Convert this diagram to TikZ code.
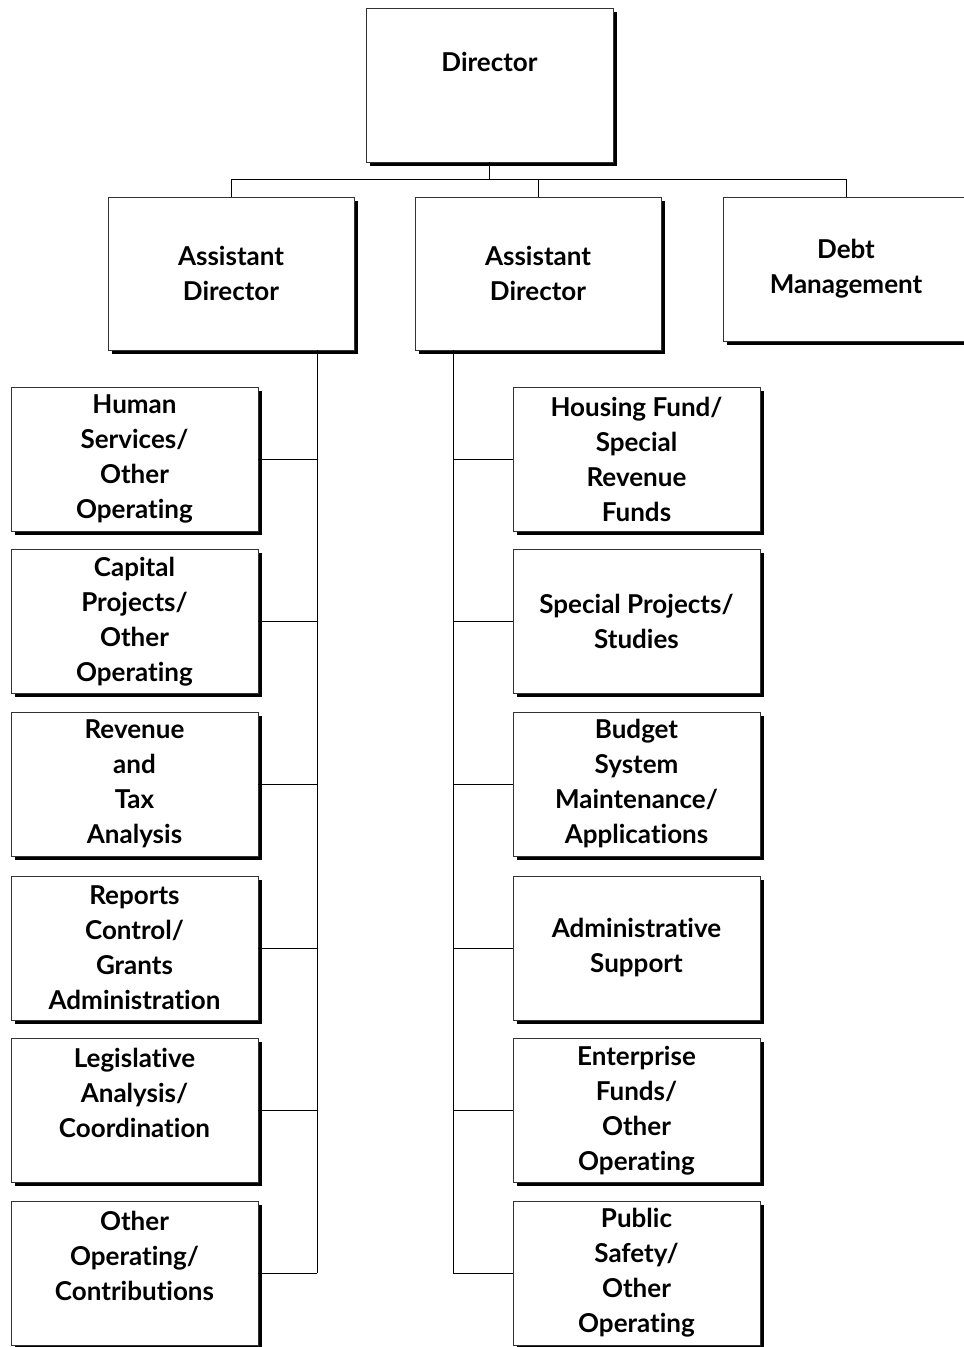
\documentclass[tikz,border=0pt]{standalone}
\usepackage{fontspec}
\setmainfont{Lato}[Ligatures=NoCommon]
\usetikzlibrary{positioning, shadows}
\tikzset{
	orgbox/.style={rectangle, draw=black!80, fill=white, line width=0.9pt, align=center, minimum width=246pt, minimum height=153pt, inner sep=0pt, font=\bfseries\fontsize{26}{35}\selectfont, drop shadow={shadow xshift=3.5pt, shadow yshift=-3.5pt, fill=black, opacity=1}},
	unitbox/.style={orgbox, minimum width=247pt, minimum height=144pt},
	link/.style={draw=black, line width=0.8pt},
}

\begin{document}
\begin{tikzpicture}[x=1pt, y=-1pt]
	\useasboundingbox (0,0) rectangle (964,1347);
	% top level
	\node[orgbox, minimum width=247pt, minimum height=154pt] (director) at (489.5,85) {Director\\[11pt]~};
	\node[orgbox] (asst1) at (231,273.5) {Assistant\\Director};
	\node[orgbox] (asst2) at (538,273.5) {Assistant\\Director};
	\node[orgbox, minimum height=144pt] (debt) at (846,269) {Debt\\Management};
	% left column
	\node[unitbox] (hs) at (134.5,459) {Human\\Services/\\Other\\Operating};
	\node[unitbox] (cp) at (134.5,621.5) {Capital\\Projects/\\Other\\Operating};
	\node[unitbox] (rta) at (134.5,784) {Revenue\\and\\Tax\\Analysis};
	\node[unitbox] (rcg) at (134.5,948) {Reports\\Control/\\Grants\\Administration};
	\node[unitbox] (lac) at (134.5,1110.5) {Legislative\\Analysis/\\Coordination\\~};
	\node[unitbox] (ooc) at (134.5,1273) {Other\\Operating/\\Contributions\\~};
	% right column
	\node[unitbox] (hf) at (636.5,459) {Housing Fund/\\Special\\Revenue\\Funds};
	\node[unitbox] (sp) at (636.5,621.5) {Special Projects/\\Studies};
	\node[unitbox] (bsm) at (636.5,784) {Budget\\System\\Maintenance/\\Applications};
	\node[unitbox] (as) at (636.5,948) {Administrative\\Support};
	\node[unitbox] (ef) at (636.5,1110.5) {Enterprise\\Funds/\\Other\\Operating};
	\node[unitbox] (ps) at (636.5,1273) {Public\\Safety/\\Other\\Operating};
	% connectors
	\draw[link] (director.south) -- ++(0,17) coordinate (bus);
	\draw[link] (asst1.north) -- (asst1.north |- bus) -| (debt.north);
	\draw[link] (asst2.north) -- (asst2.north |- bus);
	\coordinate (lspine) at (317,350);
	\coordinate (rspine) at (453,350);
	\draw[link] (lspine |- asst1.south) -- (lspine |- ooc.east);
	\draw[link] (rspine |- asst2.south) -- (rspine |- ps.west);
	\foreach \n in {hs, cp, rta, rcg, lac, ooc}
		\draw[link] (\n.east) -- (\n.east -| lspine);
	\foreach \n in {hf, sp, bsm, as, ef, ps}
		\draw[link] (\n.west) -- (\n.west -| rspine);
\end{tikzpicture}
\end{document}
